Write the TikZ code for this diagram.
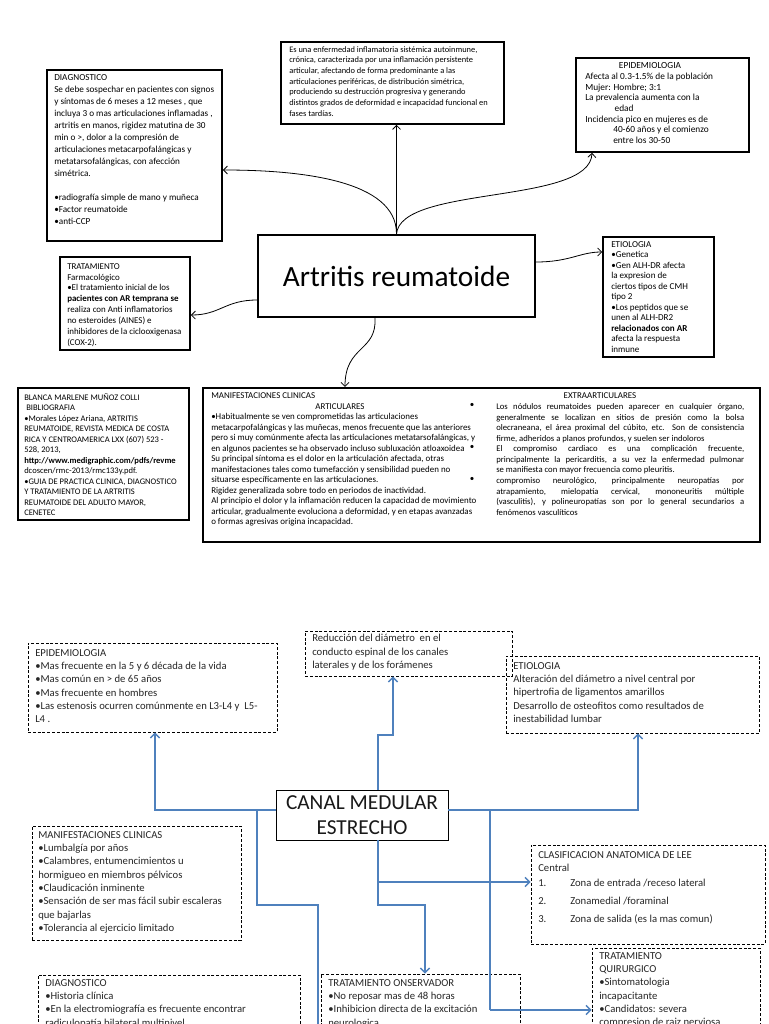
\documentclass[tikz,border=0pt]{standalone}
\usepackage{fontspec}
\setmainfont{Carlito}
\usetikzlibrary{arrows.meta,fit,calc}
\definecolor{lnblue}{RGB}{79,129,189}
\newcommand\ftup{\fontsize{6.7}{8.1}\selectfont}
\newcommand\ftlo{\fontsize{8}{10}\selectfont}
\newlength\jw
\setlength\jw{186pt}
\newcommand\jl[1]{\makebox[\jw][s]{#1}}
\begin{document}
\begin{tikzpicture}[x=0.75pt,y=-0.75pt,
  ubox/.style={draw, line width=1.3pt, inner sep=0pt},
  lbox/.style={draw, line width=0.6pt, dash pattern=on 2.2pt off 1.4pt, inner sep=0pt},
  utxt/.style={anchor=north west, inner sep=0pt, align=left, font=\ftup},
  ltxt/.style={anchor=north west, inner sep=0pt, align=left, font=\ftlo, text=black!85},
  uarr/.style={line width=0.6pt, -{Straight Barb[length=3pt,width=6pt]}},
  larr/.style={draw=lnblue, line width=1pt, -{Straight Barb[length=3.5pt,width=7pt]}},
  lline/.style={draw=lnblue, line width=1pt}]
\useasboundingbox (0,0) rectangle (768,1024);
\clip (0,0) rectangle (768,1024);
\fill[white] (0,0) rectangle (768,1024);

% ---------------- upper diagram ----------------
\node[ubox, fit={(281,42)(504,124)}] (topbox) {};
\node[utxt, font=\fontsize{6.3}{8}\selectfont] (topT) at (289,46) {Es una enfermedad inflamatoria sistémica autoinmune,\\
crónica, caracterizada por una inflamación persistente\\
articular, afectando de forma predominante a las\\
articulaciones periféricas, de distribución simétrica,\\
produciendo su destrucción progresiva y generando\\
distintos grados de deformidad e incapacidad funcional en\\
fases tardías.};

\node[ubox, fit={(47,70)(222,241)}] (diag) {};
\node[utxt, font=\fontsize{6.9}{9}\selectfont] (diagT) at (54,74) {DIAGNOSTICO\\
Se debe sospechar en pacientes con signos\\
y síntomas de 6 meses a 12 meses , que\\
incluya 3 o mas articulaciones inflamadas ,\\
artritis en manos, rigidez matutina de 30\\
min o >, dolor a la compresión de\\
articulaciones metacarpofalángicas y\\
metatarsofalángicas, con afección\\
simétrica.\\[9pt]
•radiografía simple de mano y muñeca\\
•Factor reumatoide\\
•anti-CCP};

\node[ubox, fit={(576,58)(749,152)}] (epi) {};
\node[anchor=north, inner sep=0pt, font=\fontsize{7}{8}\selectfont] (epiH) at (650,62) {EPIDEMIOLOGIA};
\node[utxt, font=\fontsize{7}{8}\selectfont] (epiT) at (585,72.7) {Afecta al 0.3-1.5\% de la población\\
Mujer: Hombre; 3:1\\
La prevalencia aumenta con la\\
\hspace{22pt}edad\\
Incidencia pico en mujeres es de\\
\hspace{21pt}40-60 años y el comienzo\\
\hspace{21pt}entre los 30-50};

\node[ubox, fit={(258,235)(535,317)}] (central) {};
\node[inner sep=0pt, font=\fontsize{22}{25}\selectfont] (centralT) at (central.center) {Artritis reumatoide};

\node[ubox, fit={(603,237)(714,357)}] (etio) {};
\node[utxt, font=\fontsize{6.8}{7.9}\selectfont] (etioT) at (611,241) {ETIOLOGIA\\
•Genetica\\
•Gen ALH-DR afecta\\
la expresion de\\
ciertos tipos de CMH\\
tipo 2\\
•Los peptidos que se\\
unen al ALH-DR2\\
\textbf{relacionados con AR}\\
afecta la respuesta\\
inmune};

\node[ubox, fit={(60,257)(190,350)}] (trat) {};
\node[utxt, font=\fontsize{6.7}{8.2}\selectfont] (tratT) at (67,263) {TRATAMIENTO\\
Farmacológico\\
•El tratamiento inicial de los\\
\textbf{pacientes con AR temprana se}\\
realiza con Anti inflamatorios\\
no esteroides (AINES) e\\
inhibidores de la ciclooxigenasa\\
(COX-2).};

\node[ubox, fit={(18,388)(189,520)}] (biblio) {};
\node[utxt, font=\fontsize{6.4}{7.9}\selectfont] (biblioT) at (24,393) {BLANCA MARLENE MUÑOZ COLLI\\
\hspace{1.5pt}BIBLIOGRAFIA\\
•Morales López Ariana, ARTRITIS\\
REUMATOIDE, REVISTA MEDICA DE COSTA\\
RICA Y CENTROAMERICA LXX (607) 523 -\\
528, 2013,\\
\textbf{http://www.medigraphic.com/pdfs/revme}\\
dcoscen/rmc-2013/rmc133y.pdf.\\
•GUIA DE PRACTICA CLINICA, DIAGNOSTICO\\
Y TRATAMIENTO DE LA ARTRITIS\\
REUMATOIDE DEL ADULTO MAYOR,\\
CENETEC};

\node[ubox, line width=1.6pt, fit={(203,388)(760,542)}] (manif) {};
\node[utxt, font=\fontsize{6.7}{7.9}\selectfont] (manifT) at (211,392.5) {MANIFESTACIONES CLINICAS\\[7.9pt]
•Habitualmente se ven comprometidas las articulaciones\\
metacarpofalángicas y las muñecas, menos frecuente que las anteriores\\
pero si muy comúnmente afecta las articulaciones metatarsofalángicas, y\\
en algunos pacientes se ha observado incluso subluxación atloaxoidea\\
Su principal síntoma es el dolor en la articulación afectada, otras\\
manifestaciones tales como tumefacción y sensibilidad pueden no\\
situarse específicamente en las articulaciones.\\
Rigidez generalizada sobre todo en periodos de inactividad.\\
Al principio el dolor y la inflamación reducen la capacidad de movimiento\\
articular, gradualmente evoluciona a deformidad, y en etapas avanzadas\\
o formas agresivas origina incapacidad.};
\node[anchor=north, inner sep=0pt, font=\fontsize{6.7}{7.9}\selectfont] (artH) at (340,403) {ARTICULARES};
\node[anchor=north, inner sep=0pt, font=\fontsize{6.7}{7.9}\selectfont] (extH) at (600,392.5) {EXTRAARTICULARES};
\node[utxt, font=\fontsize{6.5}{7.9}\selectfont] (extT) at (496,403.5) {\jl{Los nódulos reumatoides pueden aparecer en cualquier órgano,}\\
\jl{generalmente se localizan en sitios de presión como la bolsa}\\
\jl{olecraneana, el área proximal del cúbito, etc. Son de consistencia}\\
firme, adheridos a planos profundos, y suelen ser indoloros\\
\jl{El compromiso cardiaco es una complicación frecuente,}\\
\jl{principalmente la pericarditis, a su vez la enfermedad pulmonar}\\
se manifiesta con mayor frecuencia como pleuritis.\\
\jl{compromiso neurológico, principalmente neuropatías por}\\
\jl{atrapamiento, mielopatía cervical, mononeuritis múltiple}\\
\jl{(vasculitis), y polineuropatías son por lo general secundarios a}\\
fenómenos vasculíticos};
\node[anchor=north, inner sep=0pt, font=\ftup] (dot1) at (472,403.5) {•};
\node[anchor=north, inner sep=0pt, font=\ftup] (dot2) at (472,445.6) {•};
\node[anchor=north, inner sep=0pt, font=\ftup] (dot3) at (472,477.2) {•};

% upper connectors
\draw[uarr] (central.north) -- (central.north |- topbox.south);
\draw[uarr] (central.north) .. controls (397,180) and (300,170) .. (diag.east |- 0,170);
\draw[uarr] (central.north) .. controls (400,185) and (590,205) .. (epi.south -| 592,0);
\draw[uarr] (central.east |- 0,262) .. controls (570,262) and (580,252) .. (etio.west |- 0,252);
\draw[uarr] (central.west |- 0,300) .. controls (225,300) and (220,315) .. (trat.east |- 0,315);
\draw[uarr] (central.south -| 375,0) .. controls (377,352) and (345,345) .. (manif.north -| 345,0);

% ---------------- lower diagram ----------------
\node[lbox, fit={(28,643)(277,732)}] (epi2) {};
\node[ltxt] (epi2T) at (35,649) {EPIDEMIOLOGIA\\
•Mas frecuente en la 5 y 6 década de la vida\\
•Mas común en > de 65 años\\
•Mas frecuente en hombres\\
•Las estenosis ocurren comúnmente en L3-L4 y \ L5-\\
L4 .};

\node[lbox, fit={(305,631)(512,676)}] (red) {};
\node[ltxt] (redT) at (312,634) {Reducción del diámetro \ en el\\
conducto espinal de los canales\\
laterales y de los forámenes};

\node[lbox, fit={(506,656)(759,733)}] (etio2) {};
\node[ltxt] (etio2T) at (513,662) {ETIOLOGIA\\
Alteración del diámetro a nivel central por\\
hipertrofia de ligamentos amarillos\\
Desarrollo de osteofitos como resultados de\\
inestabilidad lumbar};

\node[draw, line width=0.7pt, inner sep=0pt, fit={(276,790)(448,840)}] (canal) {};
\node[inner sep=0pt, align=center, font=\fontsize{16}{19}\selectfont, text=black!90] (canalT) at (canal.center) {CANAL MEDULAR\\ESTRECHO};

\node[lbox, fit={(32,826)(241,940)}] (manif2) {};
\node[ltxt] (manif2T) at (38,831) {MANIFESTACIONES CLINICAS\\
•Lumbalgía por años\\
•Calambres, entumencimientos u\\
hormigueo en miembros pélvicos\\
•Claudicación inminente\\
•Sensación de ser mas fácil subir escaleras\\
que bajarlas\\
•Tolerancia al ejercicio limitado};

\node[lbox, fit={(531,845)(765,944)}] (clas) {};
\node[ltxt] (clasT) at (538,851) {CLASIFICACION ANATOMICA DE LEE\\
Central\\[1.5pt]
\makebox[24pt][l]{1.}Zona de entrada /receso lateral\\[3.5pt]
\makebox[24pt][l]{2.}Zonamedial /foraminal\\[3.5pt]
\makebox[24pt][l]{3.}Zona de salida (es la mas comun)};

\node[lbox, fit={(38,975)(300,1045)}] (diag2) {};
\node[ltxt] (diag2T) at (45,979) {DIAGNOSTICO\\
•Historia clínica\\
•En la electromiografía es frecuente encontrar\\
radiculopatía bilateral multinivel};

\node[lbox, fit={(321,974)(520,1045)}] (tons) {};
\node[ltxt] (tonsT) at (328,979) {TRATAMIENTO ONSERVADOR\\
•No reposar mas de 48 horas\\
•Inhibicion directa de la excitación\\
neurologica};

\node[lbox, fit={(592,948)(760,1045)}] (quir) {};
\node[ltxt] (quirT) at (599,952) {TRATAMIENTO\\
QUIRURGICO\\
•Sintomatologia\\
incapacitante\\
•Candidatos: severa\\
compresion de raiz nerviosa};

% lower connectors
\draw[larr] (canal.west |- 0,810) -| (epi2.south -| 155,0);
\draw[lline] (257,810) |- (318,905) -- (318,1030);
\draw[larr] (canal.north -| 378,0) -- (378,735) -| (red.south -| 393,0);
\draw[larr] (canal.east |- 0,810) -| (etio2.south -| 638,0);
\draw[lline] (490,810) -- (490,1010);
\draw[larr] (490,1010) -- (quir.west |- 0,1010);
\draw[larr] (canal.south -| 378,0) |- (clas.west |- 0,882);
\draw[larr] (378,882) -- (378,905) -| (tons.north -| 425,0);
\end{tikzpicture}
\end{document}
